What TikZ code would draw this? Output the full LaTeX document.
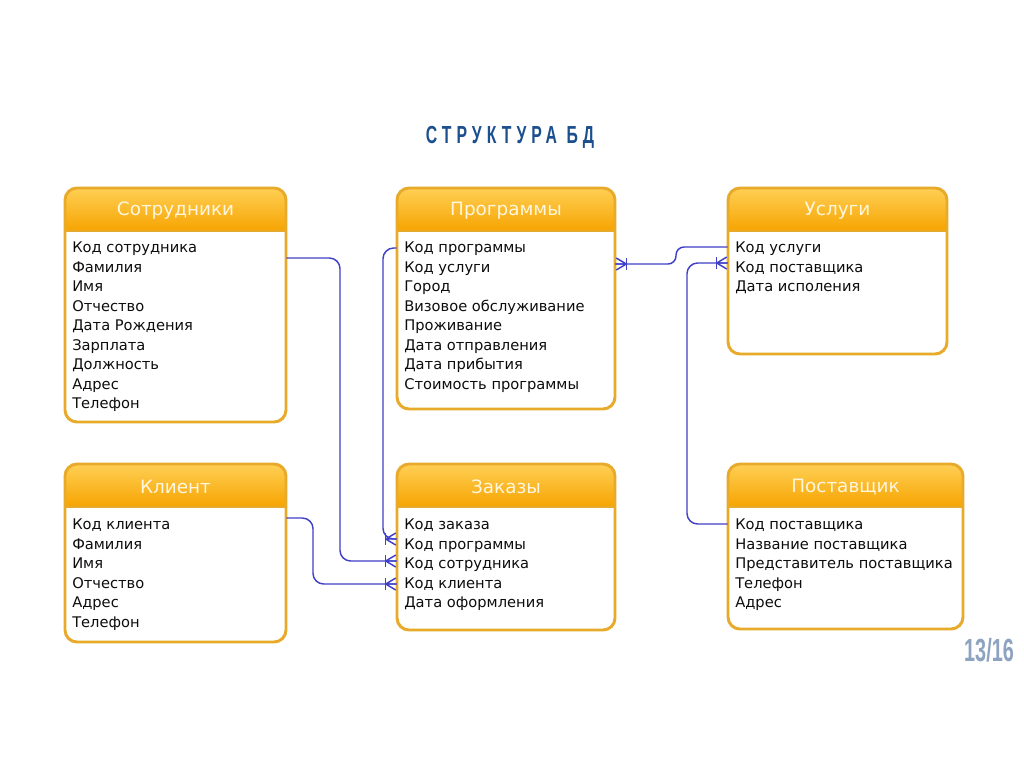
\documentclass[tikz,border=0pt]{standalone}
\usepackage{fontspec}
\usepackage{graphicx}
\setmainfont{DejaVu Sans}
\newfontfamily\titlefont[LetterSpace=32]{Liberation Sans}
\newfontfamily\pagefont{Liberation Sans}
\usetikzlibrary{fit}
\definecolor{hdrtop}{HTML}{FFCF55}
\definecolor{hdrbot}{HTML}{F6A400}
\definecolor{tblborder}{HTML}{E8AA2A}
\definecolor{hdrtext}{HTML}{FFF6DE}
\definecolor{connc}{RGB}{64,64,200}
\definecolor{titlec}{HTML}{1C4F8E}
\definecolor{pagec}{HTML}{8EA3BF}
\tikzset{
  conn/.style={draw=connc, line width=1.1pt, rounded corners=8pt},
  row/.style={anchor=base west, inner sep=0pt, font=\fontsize{11pt}{13pt}\selectfont, text=black!95},
  hdrtitle/.style={inner sep=0pt, font=\fontsize{13.8pt}{15pt}\selectfont, text=hdrtext},
  tblbox/.style={inner sep=0pt, draw=none},
  pics/crowfoot/.style={code={
    \draw[connc, line width=1.1pt] (-11,-6) -- (-11,6);
    \draw[connc, line width=1.1pt] (-11,0) -- (-1,-6) (-11,0) -- (-1,6) (-11,0) -- (0,0);
  }}
}
\newcommand\erbox[6]{%
  \node[fit={(#2,#3) (#4,#5)}, tblbox] (#1) {};
  \begin{scope}
    \clip[rounded corners=9pt] (#2,#3) rectangle (#4,#5);
    \fill[white] (#2,#3) rectangle (#4,#5);
    \shade[top color=hdrtop, bottom color=hdrbot] (#2,#3) rectangle (#4,#3+43);
    \draw[tblborder, line width=1pt] (#2,#3+43) -- (#4,#3+43);
  \end{scope}
  \draw[tblborder, line width=2.2pt, rounded corners=9pt] (#2,#3) rectangle (#4,#5);
  \node[hdrtitle] (#1-h) at ({(#2+#4)/2},#3+23) {#6};
}
\begin{document}
\begin{tikzpicture}[x=0.75pt,y=-0.75pt]
\useasboundingbox[fill=white] (0,0) rectangle (1024,769);

\node[inner sep=0pt, text=titlec] (title) at (510,137)
  {\scalebox{0.64}[1]{\titlefont\bfseries\fontsize{18.5pt}{20pt}\selectfont СТРУКТУРА БД}};

\erbox{emp}{65}{188}{286}{422}{Сотрудники}
\erbox{prog}{397}{188}{615}{409}{Программы}
\erbox{usl}{728}{188}{947}{354}{Услуги}
\erbox{kli}{65}{464}{286}{642}{Клиент}
\erbox{zak}{397}{464}{615}{630}{Заказы}
\erbox{post}{728}{464}{963}{629}{Поставщик}

\foreach \t [count=\i] in {Код сотрудника,Фамилия,Имя,Отчество,Дата Рождения,Зарплата,Должность,Адрес,Телефон}
  \node[row] (emp\i) at (72,{233+19.5*\i}) {\t};
\foreach \t [count=\i] in {Код программы,Код услуги,Город,Визовое обслуживание,Проживание,Дата отправления,Дата прибытия,Стоимость программы}
  \node[row] (prog\i) at (404,{233+19.5*\i}) {\t};
\foreach \t [count=\i] in {Код услуги,Код поставщика,Дата исполения}
  \node[row] (usl\i) at (735,{233+19.5*\i}) {\t};
\foreach \t [count=\i] in {Код клиента,Фамилия,Имя,Отчество,Адрес,Телефон}
  \node[row] (kli\i) at (72,{510+19.5*\i}) {\t};
\foreach \t [count=\i] in {Код заказа,Код программы,Код сотрудника,Код клиента,Дата оформления}
  \node[row] (zak\i) at (404,{510+19.5*\i}) {\t};
\foreach \t [count=\i] in {Код поставщика,Название поставщика,Представитель поставщика,Телефон,Адрес}
  \node[row] (post\i) at (735,{510+19.5*\i}) {\t};

% connectors
\coordinate (a1) at (emp.east |- 0,258);
\coordinate (b1) at (zak.west |- 0,561);
\draw[conn] (a1) -- (340,258) -- (340,561) -- (b1);
\pic at (b1) {crowfoot};

\coordinate (a2) at (prog.west |- 0,248);
\coordinate (b2) at (zak.west |- 0,539);
\draw[conn] (a2) -- (383,248) -- (383,539) -- (b2);
\pic at (b2) {crowfoot};

\coordinate (a3) at (kli.east |- 0,518);
\coordinate (b3) at (zak.west |- 0,584);
\draw[conn] (a3) -- (313,518) -- (313,584) -- (b3);
\pic at (b3) {crowfoot};

\coordinate (a4) at (usl.west |- 0,247);
\coordinate (b4) at (prog.east |- 0,264);
\draw[conn, rounded corners=6pt] (a4) -- (676,247) -- (676,264) -- (b4);
\pic[xscale=-1] at (b4) {crowfoot};

\coordinate (a5) at (post.west |- 0,524);
\coordinate (b5) at (usl.west |- 0,263);
\draw[conn] (a5) -- (687,524) -- (687,263) -- (b5);
\pic at (b5) {crowfoot};

\node[inner sep=0pt, text=pagec] (page) at (989,650)
  {\scalebox{0.62}[1]{\pagefont\bfseries\fontsize{24pt}{26pt}\selectfont 13/16}};
\end{tikzpicture}
\end{document}
